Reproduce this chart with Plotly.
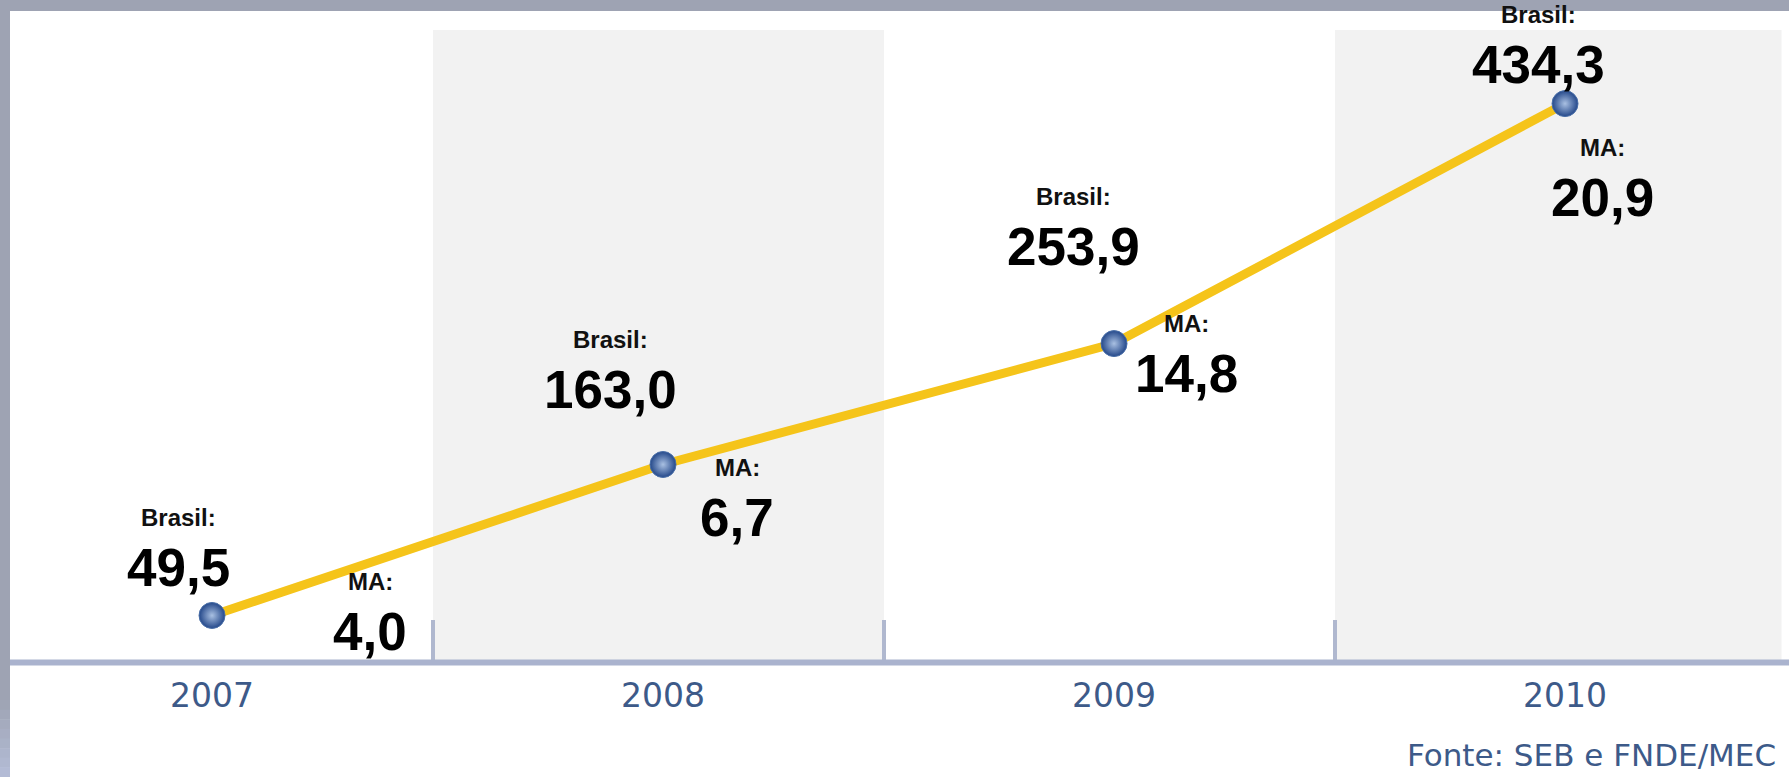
import plotly.graph_objects as go

# Data
years = [2007, 2008, 2009, 2010]
brasil = [49.5, 163.0, 253.9, 434.3]
ma = [4.0, 6.7, 14.8, 20.9]
year_labels = ["2007", "2008", "2009", "2010"]
source_note = "Fonte: SEB e FNDE/MEC"

# Label group offsets (pixels) from each point: (dx, dy) for the Brasil
# block and for the MA block; dy is upward.
brasil_offsets = [(-34, 98), (-53, 125), (-41, 147), (-27, 89)]
ma_offsets = [(158, 34), (74, -3), (72, 20), (37, -44)]
BLOCK_GAP = 54

W, H = 1789, 777
PLOT_BOTTOM = 115
PLOT_H = H - PLOT_BOTTOM

BORDER = "#9EA3B3"
BAND = "#F2F2F2"
AXIS = "#AAB3CE"
TICK_TXT = "#3D5A89"
LABEL_FONT = "Liberation Sans, Arial, sans-serif"
TICK_FONT = "DejaVu Sans, Verdana, sans-serif"


def fmt(v):
    return f"{v:.1f}".replace(".", ",")


fig = go.Figure()

fig.add_trace(go.Scatter(
    x=years, y=brasil, mode="lines+markers",
    line=dict(color="#F5C41A", width=9),
    marker=dict(size=26, color="#24488A",
                gradient=dict(type="radial", color="#A9C0E2"),
                line=dict(color="#4A6FA8", width=1)),
    hoverinfo="skip", showlegend=False,
))

shapes = []
# shaded columns behind 2008 and 2010
band_top = (PLOT_H - 30) / PLOT_H
for x0, x1 in [(2007.49, 2008.49), (2009.49, 2010.48)]:
    shapes.append(dict(type="rect", xref="x", yref="paper", x0=x0, x1=x1,
                       y0=0, y1=band_top, fillcolor=BAND, line_width=0,
                       layer="below"))
# short separators between years
for xb in [2007.49, 2008.49, 2009.49]:
    shapes.append(dict(type="line", xref="x", yref="paper", x0=xb, x1=xb,
                       y0=0, y1=42 / PLOT_H, line=dict(color="#B0B8CF", width=4),
                       layer="below"))
# baseline
shapes.append(dict(type="line", xref="paper", yref="paper", x0=10 / W, x1=1,
                   y0=-0.5 / PLOT_H, y1=-0.5 / PLOT_H,
                   line=dict(color=AXIS, width=6), layer="above"))
# frame: top strip and left strip
shapes.append(dict(type="rect", xref="paper", yref="paper", x0=0, x1=1,
                   y0=(PLOT_H - 11) / PLOT_H, y1=1.01, fillcolor=BORDER,
                   line_width=0, layer="above"))
shapes.append(dict(type="rect", xref="paper", yref="paper", x0=0, x1=10 / W,
                   y0=(PLOT_H - 700) / PLOT_H, y1=1.01, fillcolor=BORDER,
                   line_width=0, layer="above"))
c0 = (0x9E, 0xA3, 0xB3)
c1 = (0xB4, 0xBD, 0xD7)
steps = 8
for i in range(steps):
    t = (i + 0.5) / steps
    col = "rgb(%d,%d,%d)" % tuple(round(a + (b - a) * t) for a, b in zip(c0, c1))
    p0 = 700 + i * (77 / steps)
    p1 = p0 + 77 / steps + 0.5
    shapes.append(dict(type="rect", xref="paper", yref="paper", x0=0, x1=10 / W,
                       y0=(PLOT_H - p1) / PLOT_H, y1=(PLOT_H - p0) / PLOT_H,
                       fillcolor=col, line_width=0, layer="above"))

annotations = []
for yr, vb, vm, (bdx, bdy), (mdx, mdy) in zip(years, brasil, ma,
                                              brasil_offsets, ma_offsets):
    for name, val, dx, dy in [("Brasil:", vb, bdx, bdy), ("MA:", vm, mdx, mdy)]:
        annotations.append(dict(
            x=yr, y=vb, xref="x", yref="y", text=f"<b>{name}</b>",
            showarrow=False, xanchor="center", yanchor="middle",
            xshift=dx, yshift=dy,
            font=dict(family=LABEL_FONT, size=24, color="#111111")))
        annotations.append(dict(
            x=yr, y=vb, xref="x", yref="y", text=f"<b>{fmt(val)}</b>",
            showarrow=False, xanchor="center", yanchor="middle",
            xshift=dx, yshift=dy - BLOCK_GAP + 4,
            font=dict(family=LABEL_FONT, size=53, color="#000000")))

annotations.append(dict(
    x=1, y=0, xref="paper", yref="paper", text=source_note, showarrow=False,
    xanchor="right", yanchor="bottom", xshift=-11, yshift=-113,
    font=dict(family=TICK_FONT, size=31, color=TICK_TXT)))

fig.update_layout(
    width=W, height=H,
    margin=dict(l=0, r=0, t=0, b=PLOT_BOTTOM),
    paper_bgcolor="white", plot_bgcolor="white",
    xaxis=dict(range=[2006.5299, 2010.4966], tickvals=years, ticktext=year_labels,
               showgrid=False, zeroline=False, showline=False, ticks="",
               ticklabelstandoff=11,
               tickfont=dict(family=TICK_FONT, size=33, color=TICK_TXT),
               fixedrange=True),
    yaxis=dict(range=[14.51, 512.2], visible=False, fixedrange=True),
    shapes=shapes, annotations=annotations,
)

fig.write_html("out.html")
